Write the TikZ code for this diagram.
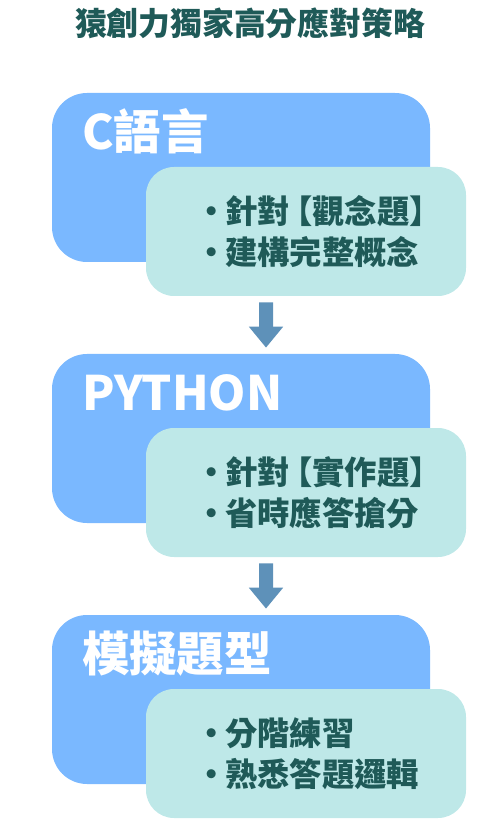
\documentclass[tikz,border=0pt]{standalone}
\usepackage{fontspec}
\newfontfamily\cjk{Noto Sans CJK TC}
\usetikzlibrary{arrows.meta}
\definecolor{boxblue}{HTML}{7AB8FF}
\definecolor{boxteal}{HTML}{BEE8E8}
\definecolor{txtteal}{HTML}{1F5A58}
\definecolor{arrowblue}{HTML}{5E91B9}
\newcommand{\bul}{\makebox[0.52cm]{•}}
\newcommand{\lbrk}{\kern-0.3em【}

\begin{document}
\begin{tikzpicture}[topic/.style={rectangle,rounded corners=0.7cm,fill=boxblue,minimum width=7.56cm,minimum height=3.38cm,inner sep=0},
detail/.style={rectangle,rounded corners=0.56cm,fill=boxteal,minimum width=6.4cm,minimum height=2.58cm,inner sep=0},
heading/.style={anchor=base west,inner sep=0,text=white,font=\cjk\bfseries\fontsize{27}{31}\selectfont},
points/.style={anchor=west,inner sep=0,align=left,text=txtteal,font=\cjk\bfseries\fontsize{18.4}{23.2}\selectfont},
flow/.style={-{Triangle[width=0.66cm,length=0.42cm]},line width=0.28cm,draw=arrowblue,shorten <=0.12cm,shorten >=0.12cm}]
\useasboundingbox (0,0) rectangle (10,-16.38);
\node[text=txtteal,font=\cjk\bfseries\fontsize{18.1}{21}\selectfont] (title) at (5,-0.47) {猿創力獨家高分應對策略};
% C
\node[topic] (ctopic) at (4.82,-3.55) {};
\node[heading] (chead) at ([shift={(0.6,-1.14)}]ctopic.north west) {C語言};
\node[detail] (cdetail) at (6.12,-4.63) {};
\node[points] (cpoints) at ([xshift=1.06cm]cdetail.west) {\bul 針對\lbrk 觀念題】\\ \bul 建構完整概念};
% PYTHON
\node[topic] (pytopic) at (4.82,-8.77) {};
\node[heading] (pyhead) at ([shift={(0.6,-1.14)}]pytopic.north west) {PYTHON};
\node[detail] (pydetail) at (6.12,-9.85) {};
\node[points] (pypoints) at ([xshift=1.06cm]pydetail.west) {\bul 針對\lbrk 實作題】\\ \bul 省時應答搶分};
% mock exams
\node[topic] (simtopic) at (4.82,-13.99) {};
\node[heading] (simhead) at ([shift={(0.6,-1.14)}]simtopic.north west) {模擬題型};
\node[detail] (simdetail) at (6.12,-15.07) {};
\node[points] (simpoints) at ([xshift=1.06cm]simdetail.west) {\bul 分階練習\\ \bul 熟悉答題邏輯};
\draw[flow] ([xshift=-0.8cm]cdetail.south) -- ([xshift=0.5cm]pytopic.north);
\draw[flow] ([xshift=-0.8cm]pydetail.south) -- ([xshift=0.5cm]simtopic.north);
\end{tikzpicture}
\end{document}
